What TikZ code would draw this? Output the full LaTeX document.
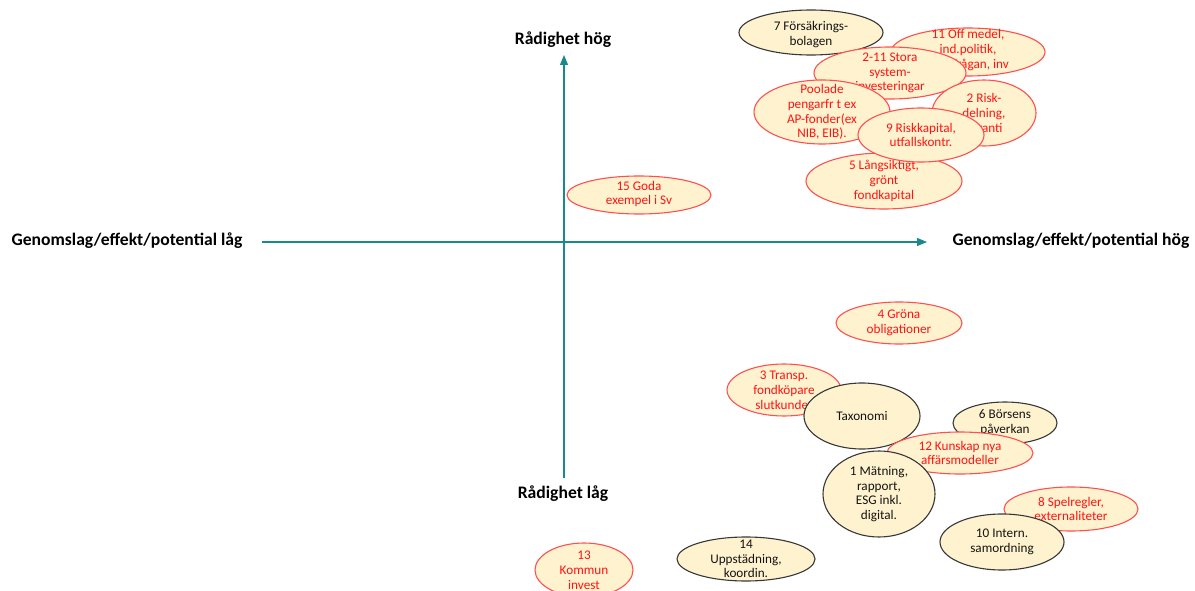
\documentclass[tikz,border=0pt]{standalone}
\usepackage{fontspec}
\setmainfont{Carlito}
\usetikzlibrary{shapes.geometric,arrows.meta}
\definecolor{axisteal}{RGB}{24,138,142}
\definecolor{blobfill}{RGB}{255,242,206}
\definecolor{redline}{RGB}{255,80,80}
\definecolor{redtext}{RGB}{255,20,20}
\definecolor{darkline}{RGB}{55,55,55}
\definecolor{darktext}{RGB}{20,20,20}
\tikzset{
  redblob/.style={ellipse, draw=redline, fill=blobfill, line width=1.1pt, inner sep=0pt},
  blackblob/.style={ellipse, draw=darkline, fill=blobfill, line width=1.1pt, inner sep=0pt},
  redblobtxt/.style={text=redtext, align=center, inner sep=0pt, font=\fontsize{13.2}{14.8}\selectfont},
  blackblobtxt/.style={text=darktext, align=center, inner sep=0pt, font=\fontsize{13.2}{14.8}\selectfont},
  axislabel/.style={font=\fontsize{17.6}{20}\selectfont\bfseries, text=black, inner sep=0pt},
  axisline/.style={draw=axisteal, line width=1.2pt, -{Triangle[length=10pt,width=8pt]}},
}
% #1 name, #2 x, #3 y, #4 rx, #5 ry, #6 style, #7 text dy, #8 text
\newcommand\blob[8]{%
  \node[#6, minimum width=#4*2pt, minimum height=#5*2pt] (#1) at (#2,#3) {};
  \node[#6txt] (#1t) at ([yshift=-#7pt]#1.center) {#8};
}
\begin{document}
\begin{tikzpicture}[x=1pt,y=-1pt]
\useasboundingbox (0,0) rectangle (1195,591);
\clip (0,0) rectangle (1195,591);
% axes
\coordinate (vbot) at (564,478);
\coordinate (vtop) at (564,55);
\coordinate (hleft) at (262,242);
\coordinate (hright) at (927,242);
\draw[axisline] (vbot) -- (vtop);
\draw[axisline] (hleft) -- (hright);
\node[axislabel] (lhigh) at (563,40) {Rådighet hög};
\node[axislabel] (llow) at (563,494) {Rådighet låg};
\node[axislabel] (gleft) at (127,241) {Genomslag/effekt/potential låg};
\node[axislabel] (gright) at (1071,241) {Genomslag/effekt/potential hög};
% top cluster
\blob{b7}{811}{32.5}{72}{22.5}{blackblob}{2}{7 Försäkrings-\\bolagen}
\blob{b11}{968}{52}{77}{24}{redblob}{-2}{11 Off medel,\\ind.politik,\\efterfrågan, inv}
\blob{b211}{890}{73}{76}{26}{redblob}{0}{2-11 Stora\\system-\\investeringar}
\blob{b2}{984}{113}{52}{33}{redblob}{1}{2 Risk-\\delning,\\garanti}
\blob{b5}{884}{181}{78}{28}{redblob}{0}{5 Långsiktigt,\\grönt\\fondkapital}
\blob{bpool}{822}{112}{68}{32}{redblob}{0}{Poolade\\pengarfr t ex\\AP-fonder(ex\\NIB, EIB).}
\blob{b9}{921}{135}{63}{27}{redblob}{0}{9 Riskkapital,\\utfallskontr.}
\blob{b15}{639}{195}{72}{19}{redblob}{-1}{15 Goda\\exempel i Sv}
% lower cluster
\blob{b4}{899}{323}{63}{21}{redblob}{0}{4 Gröna\\obligationer}
\blob{b3}{784}{390}{57}{26}{redblob}{0}{3 Transp.\\fondköpare\\slutkunder}
\blob{btax}{862}{416}{58}{33}{blackblob}{0}{Taxonomi}
\blob{b6}{1005}{423}{52}{21}{blackblob}{0}{6 Börsens\\påverkan}
\blob{b12}{960}{453}{73}{21}{redblob}{0}{12 Kunskap nya\\affärsmodeller}
\blob{b1}{879}{494}{56}{43}{blackblob}{0}{1 Mätning,\\rapport,\\ESG inkl.\\digital.}
\blob{b8}{1071}{509}{67}{22}{redblob}{0}{8 Spelregler,\\externaliteter}
\blob{b10}{1002}{542}{62}{28}{blackblob}{0}{10 Intern.\\samordning}
\blob{b13}{584}{570}{49}{27}{redblob}{0}{13\\Kommun\\invest}
\blob{b14}{746}{559}{69}{22}{blackblob}{0}{14\\Uppstädning,\\koordin.}
\end{tikzpicture}
\end{document}
